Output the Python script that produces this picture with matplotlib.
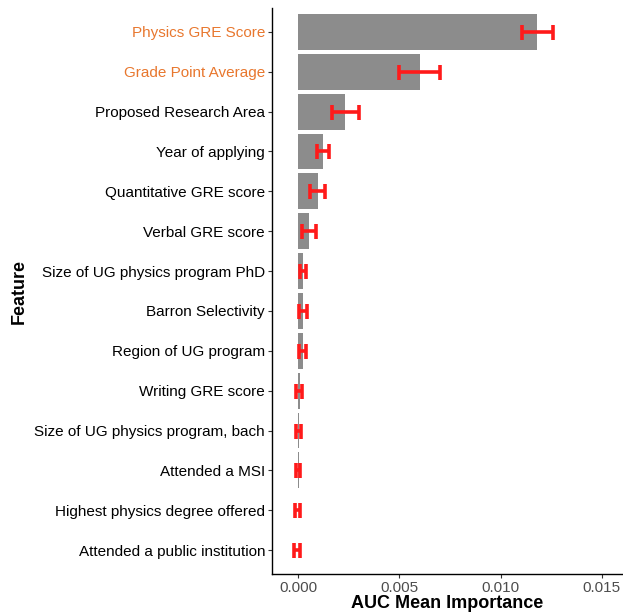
import matplotlib
matplotlib.use('Agg')
import matplotlib.pyplot as plt
import numpy as np

plt.rcParams['font.family'] = ['Liberation Sans', 'DejaVu Sans']

# Features, top to bottom
features = ['Physics GRE Score', 'Grade Point Average', 'Proposed Research Area',
            'Year of applying', 'Quantitative GRE score', 'Verbal GRE score',
            'Size of UG physics program PhD', 'Barron Selectivity', 'Region of UG program',
            'Writing GRE score', 'Size of UG physics program, bach', 'Attended a MSI',
            'Highest physics degree offered', 'Attended a public institution']
importance = [0.01182, 0.00604, 0.00233, 0.00124, 0.00099, 0.00054,
              0.00025, 0.00026, 0.00025, 0.00008, 0.00004, 0.00002, 0.00001, -0.00002]
err_low = [0.01104, 0.00500, 0.00165, 0.00094, 0.00060, 0.00020,
           0.00010, 0.00006, 0.00003, -0.00010, -0.00011, -0.00011, -0.00016, -0.00020]
err_high = [0.01259, 0.00703, 0.00299, 0.00153, 0.00134, 0.00089,
            0.00040, 0.00042, 0.00038, 0.00020, 0.00016, 0.00008, 0.00008, 0.00007]
highlight = ['Physics GRE Score', 'Grade Point Average']

fig = plt.figure(figsize=(6.23, 6.14), dpi=100)
ax = fig.add_axes([272 / 623, 40 / 614, 350 / 623, 566 / 614])

y = np.arange(len(features))
imp = np.array(importance)
lo = np.array(err_low)
hi = np.array(err_high)
ax.barh(y, imp, height=0.9, color='#8c8c8c', zorder=1)
ax.errorbar((lo + hi) / 2, y, xerr=(hi - lo) / 2, fmt='none', ecolor='#ff1a1a',
            elinewidth=2.6, capsize=5.4, capthick=2.6, zorder=2)

ax.set_ylim(len(features) - 0.4, -0.6)
ax.set_xlim(-0.00129, 0.0160)
ax.set_yticks(y)
ax.set_yticklabels(features, fontsize=11)
for lbl in ax.get_yticklabels():
    lbl.set_color('#e8772e' if lbl.get_text() in highlight else 'black')
ax.set_xticks([0.0, 0.005, 0.010, 0.015])
ax.set_xticklabels(['0.000', '0.005', '0.010', '0.015'], fontsize=11, color='#4d4d4d')
ax.tick_params(axis='both', length=3, width=0.8, color='#333333', pad=2)
for s in ['top', 'right']:
    ax.spines[s].set_visible(False)
for s in ['left', 'bottom']:
    ax.spines[s].set_linewidth(1.0)
ax.set_xlabel('AUC Mean Importance', fontsize=13, fontweight='bold', labelpad=0)
ax.set_ylabel('Feature', fontsize=13, fontweight='bold', labelpad=5)

fig.savefig('out.png', dpi=100)
